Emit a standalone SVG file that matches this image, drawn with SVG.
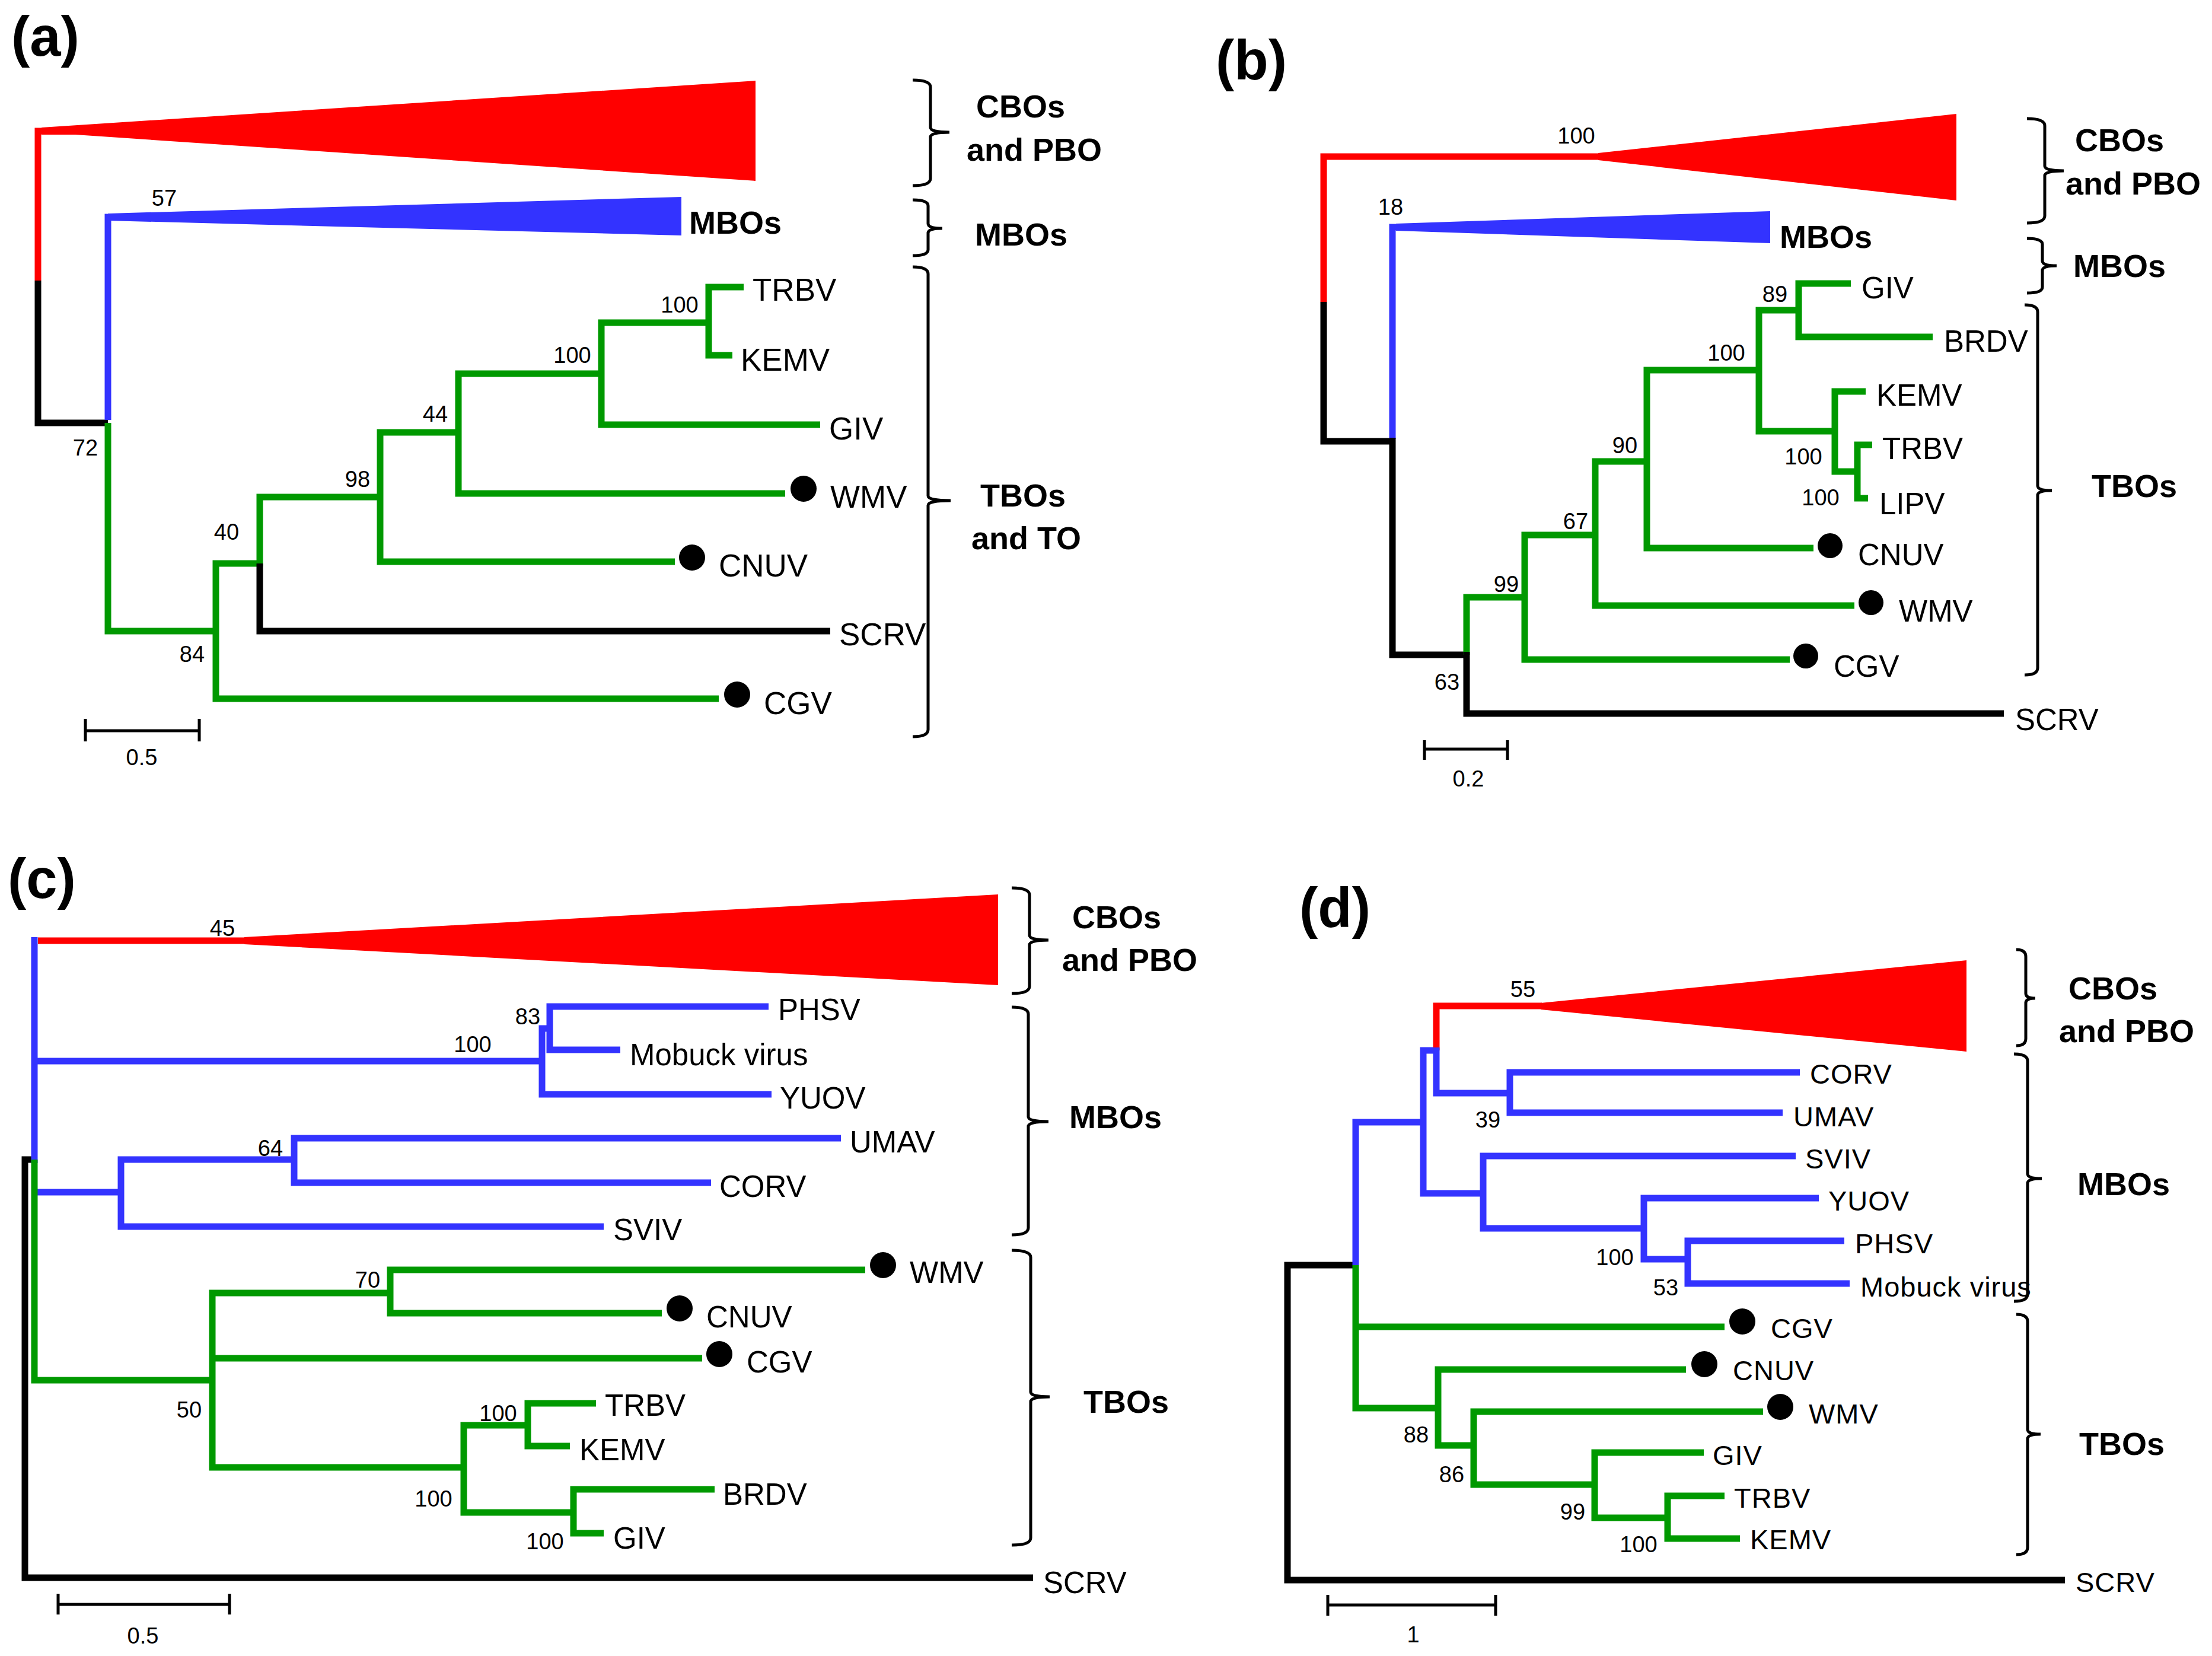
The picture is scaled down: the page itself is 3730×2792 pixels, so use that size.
<svg xmlns="http://www.w3.org/2000/svg" width="3730" height="2792" viewBox="0 0 3730 2792">
<style>
.r{fill:none;stroke:#FF0000;stroke-width:11}
.b{fill:none;stroke:#3333FF;stroke-width:11}
.g{fill:none;stroke:#009900;stroke-width:11}
.k{fill:none;stroke:#000;stroke-width:11}
.br{fill:none;stroke:#000;stroke-width:5}
.sb{fill:none;stroke:#000;stroke-width:5}
.ttl{font-family:"Liberation Sans",Arial,sans-serif;font-weight:bold;font-size:94px}
.grp{font-family:"Liberation Sans",Arial,sans-serif;font-weight:bold;font-size:54px}
.n{font-family:"Liberation Sans",Arial,sans-serif;font-size:38px;text-anchor:middle}
.la{font-family:"Liberation Sans",Arial,sans-serif;font-size:53px}
.lb{font-family:"Liberation Sans",Arial,sans-serif;font-size:51px}
.lc{font-family:"Liberation Sans",Arial,sans-serif;font-size:51px}
.ld{font-family:"Liberation Sans",Arial,sans-serif;font-size:47px;letter-spacing:1px}
</style>
<rect width="3730" height="2792" fill="#fff"/>

<!-- ================= Panel (a) ================= -->
<g id="panel-a">
<text class="ttl" x="19" y="94">(a)</text>
<g id="a-connectors">
<path class="r" d="M130,221 H64 V473"/>
<path class="k" d="M64,473 V713 H182"/>
<path class="b" d="M200,366 H182 V708"/>
<path class="g" d="M182,713 V1064 H364"/>
<path class="g" d="M438,950 H364 V1178 H1212"/>
<path class="g" d="M641,838 H438 V955"/>
<path class="k" d="M438,950 V1064 H1400"/>
<path class="g" d="M773,729 H641 V947 H1138"/>
<path class="g" d="M1014,630 H773 V832 H1324"/>
<path class="g" d="M1195,544 H1014 V716 H1383"/>
<path class="g" d="M1254,484 H1195 V599 H1235"/>
</g>
<g id="a-cbo"><polygon fill="#FF0000" points="70,215 1274,136 1274,305 127,227 70,227"/></g>
<g id="a-mbo"><polygon fill="#3333FF" points="182,360 1149,332 1149,397 182,372"/><text class="grp" x="1162" y="394">MBOs</text></g>
<g id="a-numbers">
<text class="n" x="277" y="347">57</text>
<text class="n" x="144" y="768">72</text>
<text class="n" x="324" y="1116">84</text>
<text class="n" x="382" y="910">40</text>
<text class="n" x="603" y="821">98</text>
<text class="n" x="734" y="711">44</text>
<text class="n" x="965" y="612">100</text>
<text class="n" x="1146" y="527">100</text>
</g>
<g id="a-TRBV"><text class="la" x="1269" y="507">TRBV</text></g>
<g id="a-KEMV"><text class="la" x="1249" y="625">KEMV</text></g>
<g id="a-GIV"><text class="la" x="1398" y="741">GIV</text></g>
<g id="a-WMV"><circle cx="1355" cy="824" r="22"/><text class="la" x="1400" y="856">WMV</text></g>
<g id="a-CNUV"><circle cx="1167" cy="940" r="22"/><text class="la" x="1212" y="972">CNUV</text></g>
<g id="a-SCRV"><text class="la" x="1415" y="1088">SCRV</text></g>
<g id="a-CGV"><circle cx="1243" cy="1171" r="22"/><text class="la" x="1288" y="1204">CGV</text></g>
<g id="a-brackets">
<path class="br" d="M1539,135 Q1569,135 1569,147 V215 Q1569,223 1601,223 Q1569,223 1569,231 V301 Q1569,313 1539,313"/>
<path class="br" d="M1539,337 Q1565,337 1565,347 V377 Q1565,385 1589,385 Q1565,385 1565,393 V421 Q1565,431 1539,431"/>
<path class="br" d="M1539,450 Q1565,450 1565,462 V836 Q1565,844 1603,844 Q1565,844 1565,852 V1230 Q1565,1242 1539,1242"/>
</g>
<g id="a-groups">
<text class="grp" x="1646" y="198">CBOs</text>
<text class="grp" x="1630" y="271">and PBO</text>
<text class="grp" x="1644" y="414">MBOs</text>
<text class="grp" x="1653" y="854">TBOs</text>
<text class="grp" x="1638" y="926">and TO</text>
</g>
<g id="a-scale">
<path class="sb" d="M144,1232 H336 M144,1212 V1250 M336,1212 V1250"/>
<text class="n" x="239" y="1290">0.5</text>
</g>
</g>

<!-- ================= Panel (b) ================= -->
<g id="panel-b">
<text class="ttl" x="2050" y="134">(b)</text>
<g id="b-connectors">
<path class="r" d="M2700,264 H2232 V509"/>
<path class="k" d="M2232,509 V744 H2348"/>
<path class="b" d="M2360,383 H2348 V740"/>
<path class="k" d="M2348,738 V1104 H2473"/>
<path class="g" d="M2571,1007 H2473 V1104"/>
<path class="k" d="M2473,1099 V1203 H3379"/>
<path class="g" d="M2690,902 H2571 V1112 H3018"/>
<path class="g" d="M2777,778 H2690 V1021 H3127"/>
<path class="g" d="M2966,624 H2777 V924 H3058"/>
<path class="g" d="M3033,523 H2966 V727 H3094"/>
<path class="g" d="M3121,478 H3033 V568 H3259"/>
<path class="g" d="M3146,660 H3094 V795 H3132"/>
<path class="g" d="M3157,750 H3132 V840 H3150"/>
</g>
<g id="b-cbo"><polygon fill="#FF0000" points="2695,258 3299,192 3299,338 2695,270"/></g>
<g id="b-mbo"><polygon fill="#3333FF" points="2354,377 2985,356 2985,410 2354,389"/><text class="grp" x="3001" y="418">MBOs</text></g>
<g id="b-numbers">
<text class="n" x="2658" y="242">100</text>
<text class="n" x="2345" y="362">18</text>
<text class="n" x="2440" y="1163">63</text>
<text class="n" x="2540" y="998">99</text>
<text class="n" x="2657" y="892">67</text>
<text class="n" x="2740" y="764">90</text>
<text class="n" x="2911" y="608">100</text>
<text class="n" x="2993" y="509">89</text>
<text class="n" x="3041" y="783">100</text>
<text class="n" x="3070" y="852">100</text>
</g>
<g id="b-GIV"><text class="lb" x="3139" y="503">GIV</text></g>
<g id="b-BRDV"><text class="lb" x="3278" y="593">BRDV</text></g>
<g id="b-KEMV"><text class="lb" x="3164" y="684">KEMV</text></g>
<g id="b-TRBV"><text class="lb" x="3174" y="774">TRBV</text></g>
<g id="b-LIPV"><text class="lb" x="3169" y="867">LIPV</text></g>
<g id="b-CNUV"><circle cx="3086" cy="920" r="21"/><text class="lb" x="3133" y="953">CNUV</text></g>
<g id="b-WMV"><circle cx="3155" cy="1016" r="21"/><text class="lb" x="3202" y="1048">WMV</text></g>
<g id="b-CGV"><circle cx="3045" cy="1106" r="21"/><text class="lb" x="3092" y="1141">CGV</text></g>
<g id="b-SCRV"><text class="lb" x="3398" y="1231">SCRV</text></g>
<g id="b-brackets">
<path class="br" d="M3418,200 Q3448,200 3448,212 V280 Q3448,288 3480,288 Q3448,288 3448,296 V364 Q3448,376 3418,376"/>
<path class="br" d="M3418,402 Q3444,402 3444,412 V440 Q3444,448 3468,448 Q3444,448 3444,456 V484 Q3444,494 3418,494"/>
<path class="br" d="M3414,514 Q3436,514 3436,526 V819 Q3436,827 3460,827 Q3436,827 3436,835 V1126 Q3436,1138 3414,1138"/>
</g>
<g id="b-groups">
<text class="grp" x="3499" y="255">CBOs</text>
<text class="grp" x="3483" y="328">and PBO</text>
<text class="grp" x="3496" y="467">MBOs</text>
<text class="grp" x="3527" y="838">TBOs</text>
</g>
<g id="b-scale">
<path class="sb" d="M2402,1263 H2542 M2402,1248 V1281 M2542,1248 V1281"/>
<text class="n" x="2476" y="1326">0.2</text>
</g>
</g>

<!-- ================= Panel (c) ================= -->
<g id="panel-c">
<text class="ttl" x="13" y="1514">(c)</text>
<g id="c-connectors">
<path class="k" d="M58,1955 H42 V2660 H1742"/>
<path class="b" d="M58,1580 V1961"/>
<path class="b" d="M58,1789 H914"/>
<path class="b" d="M58,2010 H204"/>
<path class="r" d="M64,1586 H420"/>
<path class="g" d="M58,1955 V2327 H358"/>
<path class="b" d="M927,1734 H914 V1845 H1301"/>
<path class="b" d="M1296,1697 H927 V1770 H1046"/>
<path class="b" d="M496,1955 H204 V2068 H1018"/>
<path class="b" d="M1418,1919 H496 V1994 H1199"/>
<path class="g" d="M658,2180 H358 V2474 H782"/>
<path class="g" d="M358,2290 H1184"/>
<path class="g" d="M1459,2141 H658 V2214 H1116"/>
<path class="g" d="M890,2403 H782 V2550 H967"/>
<path class="g" d="M1005,2366 H890 V2438 H961"/>
<path class="g" d="M1205,2511 H967 V2585 H1018"/>
</g>
<g id="c-cbo"><polygon fill="#FF0000" points="412,1580 1683,1508 1683,1661 412,1592"/></g>
<g id="c-numbers">
<text class="n" x="375" y="1578">45</text>
<text class="n" x="797" y="1774">100</text>
<text class="n" x="890" y="1727">83</text>
<text class="n" x="456" y="1949">64</text>
<text class="n" x="620" y="2171">70</text>
<text class="n" x="319" y="2390">50</text>
<text class="n" x="840" y="2396">100</text>
<text class="n" x="731" y="2540">100</text>
<text class="n" x="919" y="2612">100</text>
</g>
<g id="c-PHSV"><text class="lc" x="1312" y="1720">PHSV</text></g>
<g id="c-Mobuck"><text class="lc" x="1062" y="1796">Mobuck virus</text></g>
<g id="c-YUOV"><text class="lc" x="1315" y="1869">YUOV</text></g>
<g id="c-UMAV"><text class="lc" x="1433" y="1943">UMAV</text></g>
<g id="c-CORV"><text class="lc" x="1213" y="2018">CORV</text></g>
<g id="c-SVIV"><text class="lc" x="1034" y="2091">SVIV</text></g>
<g id="c-WMV"><circle cx="1489" cy="2133" r="22"/><text class="lc" x="1534" y="2163">WMV</text></g>
<g id="c-CNUV"><circle cx="1146" cy="2206" r="22"/><text class="lc" x="1191" y="2238">CNUV</text></g>
<g id="c-CGV"><circle cx="1213" cy="2283" r="22"/><text class="lc" x="1259" y="2314">CGV</text></g>
<g id="c-TRBV"><text class="lc" x="1020" y="2387">TRBV</text></g>
<g id="c-KEMV"><text class="lc" x="977" y="2462">KEMV</text></g>
<g id="c-BRDV"><text class="lc" x="1219" y="2537">BRDV</text></g>
<g id="c-GIV"><text class="lc" x="1034" y="2611">GIV</text></g>
<g id="c-SCRV"><text class="lc" x="1759" y="2686">SCRV</text></g>
<g id="c-brackets">
<path class="br" d="M1706,1497 Q1736,1497 1736,1509 V1577 Q1736,1585 1768,1585 Q1736,1585 1736,1593 V1663 Q1736,1675 1706,1675"/>
<path class="br" d="M1706,1698 Q1734,1698 1734,1710 V1883 Q1734,1891 1768,1891 Q1734,1891 1734,1899 V2070 Q1734,2082 1706,2082"/>
<path class="br" d="M1706,2108 Q1738,2108 1738,2120 V2347 Q1738,2355 1770,2355 Q1738,2355 1738,2363 V2593 Q1738,2605 1706,2605"/>
</g>
<g id="c-groups">
<text class="grp" x="1808" y="1565">CBOs</text>
<text class="grp" x="1791" y="1637">and PBO</text>
<text class="grp" x="1803" y="1902">MBOs</text>
<text class="grp" x="1827" y="2382">TBOs</text>
</g>
<g id="c-scale">
<path class="sb" d="M98,2705 H387 M98,2687 V2722 M387,2687 V2722"/>
<text class="n" x="241" y="2771">0.5</text>
</g>
</g>

<!-- ================= Panel (d) ================= -->
<g id="panel-d">
<text class="ttl" x="2191" y="1563">(d)</text>
<g id="d-connectors">
<path class="k" d="M2286,2133 H2171 V2664 H3482"/>
<path class="b" d="M2400,1892 H2286 V2133"/>
<path class="g" d="M2286,2133 V2374 H2425"/>
<path class="g" d="M2286,2237 H2908"/>
<path class="b" d="M2422,1771 H2400 V2012 H2501"/>
<path class="r" d="M2600,1696 H2422 V1771"/>
<path class="b" d="M2422,1766 V1843 H2546"/>
<path class="b" d="M3035,1808 H2546 V1876 H3006"/>
<path class="b" d="M3028,1949 H2501 V2071 H2772"/>
<path class="b" d="M3067,2020 H2772 V2123 H2846"/>
<path class="b" d="M3110,2092 H2846 V2164 H3119"/>
<path class="g" d="M2843,2309 H2425 V2437 H2485"/>
<path class="g" d="M2973,2380 H2485 V2503 H2689"/>
<path class="g" d="M2873,2449 H2689 V2559 H2812"/>
<path class="g" d="M2908,2522 H2812 V2594 H2934"/>
</g>
<g id="d-cbo"><polygon fill="#FF0000" points="2598,1691 3316,1619 3316,1773 2598,1702"/></g>
<g id="d-numbers">
<text class="n" x="2568" y="1681">55</text>
<text class="n" x="2509" y="1901">39</text>
<text class="n" x="2723" y="2133">100</text>
<text class="n" x="2809" y="2184">53</text>
<text class="n" x="2388" y="2432">88</text>
<text class="n" x="2448" y="2499">86</text>
<text class="n" x="2652" y="2562">99</text>
<text class="n" x="2763" y="2617">100</text>
</g>
<g id="d-CORV"><text class="ld" x="3052" y="1827">CORV</text></g>
<g id="d-UMAV"><text class="ld" x="3024" y="1899">UMAV</text></g>
<g id="d-SVIV"><text class="ld" x="3044" y="1970">SVIV</text></g>
<g id="d-YUOV"><text class="ld" x="3083" y="2041">YUOV</text></g>
<g id="d-PHSV"><text class="ld" x="3128" y="2113">PHSV</text></g>
<g id="d-Mobuck"><text class="ld" x="3137" y="2186">Mobuck virus</text></g>
<g id="d-CGV"><circle cx="2938" cy="2228" r="22"/><text class="ld" x="2986" y="2256">CGV</text></g>
<g id="d-CNUV"><circle cx="2874" cy="2300" r="22"/><text class="ld" x="2922" y="2327">CNUV</text></g>
<g id="d-WMV"><circle cx="3002" cy="2372" r="22"/><text class="ld" x="3050" y="2400">WMV</text></g>
<g id="d-GIV"><text class="ld" x="2888" y="2470">GIV</text></g>
<g id="d-TRBV"><text class="ld" x="2924" y="2542">TRBV</text></g>
<g id="d-KEMV"><text class="ld" x="2951" y="2612">KEMV</text></g>
<g id="d-SCRV"><text class="ld" x="3500" y="2684">SCRV</text></g>
<g id="d-brackets">
<path class="br" d="M3400,1601 Q3416,1601 3416,1613 V1675 Q3416,1683 3432,1683 Q3416,1683 3416,1691 V1751 Q3416,1763 3400,1763"/>
<path class="br" d="M3396,1777 Q3419,1777 3419,1789 V1979 Q3419,1987 3443,1987 Q3419,1987 3419,1995 V2182 Q3419,2194 3396,2194"/>
<path class="br" d="M3400,2216 Q3419,2216 3419,2228 V2410 Q3419,2418 3441,2418 Q3419,2418 3419,2426 V2609 Q3419,2621 3400,2621"/>
</g>
<g id="d-groups">
<text class="grp" x="3488" y="1685">CBOs</text>
<text class="grp" x="3472" y="1757">and PBO</text>
<text class="grp" x="3503" y="2015">MBOs</text>
<text class="grp" x="3506" y="2453">TBOs</text>
</g>
<g id="d-scale">
<path class="sb" d="M2239,2706 H2522 M2239,2689 V2724 M2522,2689 V2724"/>
<text class="n" x="2383" y="2769">1</text>
</g>
</g>
</svg>
